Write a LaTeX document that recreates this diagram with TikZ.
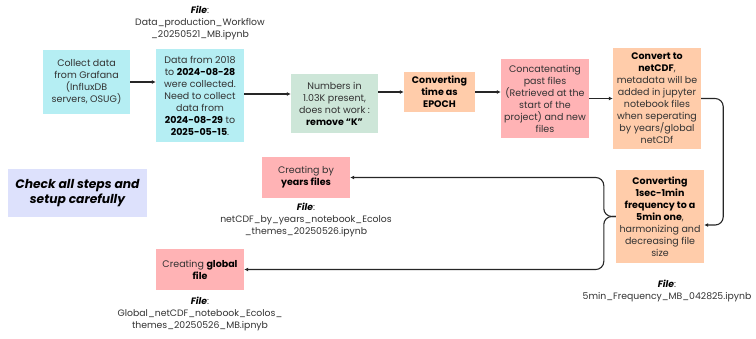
\documentclass[tikz,border=0pt]{standalone}
\usepackage{fontspec}
\setmainfont{Poppins}
\usetikzlibrary{arrows.meta}
\definecolor{cyanbox}{RGB}{181,238,243}
\definecolor{greenbox}{RGB}{205,230,216}
\definecolor{orangebox}{RGB}{255,204,170}
\definecolor{pinkbox}{RGB}{255,179,181}
\definecolor{lavbox}{RGB}{221,225,252}
\definecolor{txt}{RGB}{50,50,50}
\newcommand{\bb}[1]{\textbf{\color{black}#1}}
\begin{document}
\begin{tikzpicture}[x=1pt,y=-1pt,
  box/.style={rectangle, inner sep=1pt, align=center, text=txt,
    font=\fontsize{9.5}{12}\selectfont},
  lbl/.style={inner sep=0pt, align=center, text=txt, font=\fontsize{9.3}{12}\selectfont},
  conn/.style={line width=1.1pt, draw=black!85, -{Latex[length=4pt,width=4pt]}, rounded corners=8pt}]
\useasboundingbox (0,0) rectangle (756,338);

\node[box, fill=cyanbox, minimum width=87pt, minimum height=64pt] (collect) at (86.5,82)
  {Collect data\\from Grafana\\(InfluxDB\\servers, OSUG)};
\node[box, fill=cyanbox, minimum width=88pt, minimum height=93pt] (data) at (200,95.5)
  {Data from 2018\\to \bb{2024-08-28}\\were collected.\\Need to collect\\data from\\\bb{2024-08-29} to\\\bb{2025-05-15}.};
\node[box, fill=greenbox, minimum width=87pt, minimum height=59pt] (numbers) at (334.5,103.5)
  {Numbers in\\1.03K present,\\does not work :\\\bb{remove “K”}};
\node[box, fill=orangebox, minimum width=71pt, minimum height=40pt] (epoch) at (439.5,92)
  {\bb{Converting}\\\bb{time as}\\\bb{EPOCH}};
\node[box, fill=pinkbox, minimum width=88pt, minimum height=79pt] (concat) at (545,98.5)
  {Concatenating\\past files\\(Retrieved at the\\start of the\\project) and new\\files};
\node[box, fill=orangebox, minimum width=88pt, minimum height=101pt] (netcdf) at (657,98.5)
  {\bb{Convert to}\\\bb{netCDF},\\metadata will be\\added in jupyter\\notebook files\\when seperating\\by years/global\\netCDf};
\node[box, fill=orangebox, minimum width=88pt, minimum height=93pt] (conv5) at (660,216.5)
  {\bb{Converting}\\\bb{1sec-1min}\\\bb{frequency to a}\\\bb{5min one},\\harmonizing and\\decreasing file\\size};
\node[box, fill=pinkbox, minimum width=88pt, minimum height=41pt] (years) at (306,177.5)
  {Creating by\\\bb{years files}};
\node[box, fill=pinkbox, minimum width=88pt, minimum height=41pt] (global) at (200,269.5)
  {Creating \bb{global}\\\bb{file}};
\node[box, fill=lavbox, minimum width=139pt, minimum height=48pt, text=black,
  font=\fontsize{12.3}{15.5}\selectfont\bfseries\itshape] (check) at (77.5,193)
  {Check all steps and\\setup carefully};

\node[lbl] (f1) at (200,23)
  {\bb{\textit{File}}:\\Data\_production\_Workflow\\\_20250521\_MB.ipynb};
\node[lbl] (f2) at (306,220)
  {\bb{\textit{File}}:\\netCDF\_by\_years\_notebook\_Ecolos\\\_themes\_20250526.ipynb};
\node[lbl] (f3) at (200,314)
  {\bb{\textit{File}}:\\Global\_netCDF\_notebook\_Ecolos\_\\themes\_20250526\_MB.ipnyb};
\node[lbl] (f4) at (667,291)
  {\bb{\textit{File}}:\\5min\_Frequency\_MB\_042825.ipynb};

\draw[conn] (collect.east) -- (collect.east -| data.west);
\draw[conn] ([yshift=1.5pt]data.east) -- ([yshift=1.5pt]data.east -| numbers.west);
\draw[conn] (epoch.west -| numbers.east) -- (epoch.west);
\draw[conn] (epoch.east) -- (epoch.east -| concat.west);
\draw[conn] (concat.east) -- (netcdf.west);
\draw[conn] (netcdf.east) -- ++(22,0) |- ([yshift=-8.5pt]conv5.east);
\draw[conn] (conv5.west) -- ++(-12,0) |- (years.east);
\draw[conn] (conv5.west) -- ++(-12,0) |- (global.east);
\end{tikzpicture}
\end{document}
